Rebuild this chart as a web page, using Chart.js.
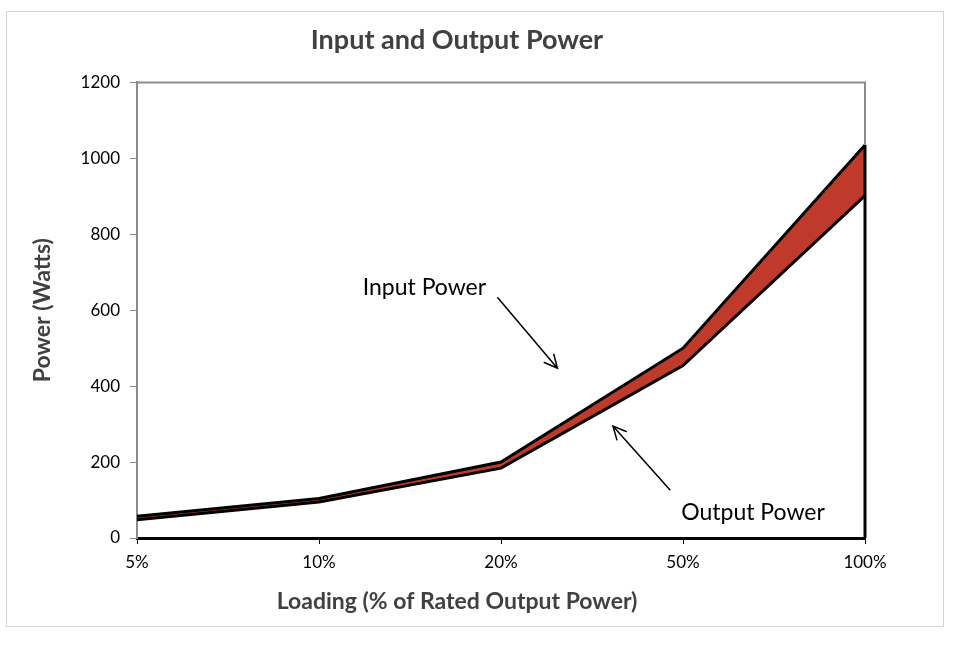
<!DOCTYPE html>
<html>
<head>
<meta charset="utf-8">
<script src="https://cdn.jsdelivr.net/npm/chart.js@4"></script>
<style>
  body { margin: 0; background: #fff; }
  #frame { position: absolute; left: 6px; top: 11px; width: 936px; height: 614px; border: 1px solid #d4d4d4; }
  #wrap { position: absolute; left: 0; top: 0; width: 960px; height: 646px; }
</style>
</head>
<body>
<div id="frame"></div>
<div id="wrap"><canvas id="chart" width="960" height="646"></canvas></div>
<script>
// chart data
const loadLabels = ["5%", "10%", "20%", "50%", "100%"];
const inputPower = [57, 104, 200, 500, 1035];
const outputPower = [48, 95, 184, 454, 902];
const yTicks = [0, 200, 400, 600, 800, 1000, 1200];

const FONT = "Lato, 'Open Sans', sans-serif";

// frame lines, right edge of the area, axis title and the two call-outs
const extras = {
    id: "extras",
    afterDatasetsDraw(chart) {
        const { ctx, chartArea: a, scales: { x, y } } = chart;
        ctx.save();
        // gray top / right frame
        ctx.strokeStyle = "#8c8c8c";
        ctx.lineWidth = 2;
        ctx.beginPath();
        ctx.moveTo(a.left, a.top);
        ctx.lineTo(a.right, a.top);
        ctx.lineTo(a.right, y.getPixelForValue(inputPower[inputPower.length - 1]));
        ctx.stroke();
        // black closing edge of the band
        const xr = x.getPixelForValue(loadLabels.length - 1);
        ctx.strokeStyle = "#000";
        ctx.lineWidth = 3;
        ctx.beginPath();
        ctx.moveTo(xr, y.getPixelForValue(inputPower[inputPower.length - 1]));
        ctx.lineTo(xr, y.getPixelForValue(0));
        ctx.stroke();

        // annotations
        ctx.fillStyle = "#000";
        ctx.font = "23px " + FONT;
        ctx.textBaseline = "middle";
        ctx.textAlign = "left";
        ctx.fillText("Input Power", x.getPixelForValue(1.24), y.getPixelForValue(660));
        ctx.fillText("Output Power", x.getPixelForValue(2.99), y.getPixelForValue(68));

        const arrow = (x1, y1, x2, y2) => {
            const ang = Math.atan2(y2 - y1, x2 - x1);
            ctx.strokeStyle = "#000";
            ctx.lineWidth = 1.5;
            ctx.beginPath();
            ctx.moveTo(x1, y1);
            ctx.lineTo(x2, y2);
            ctx.moveTo(x2 - 15 * Math.cos(ang - 0.45), y2 - 15 * Math.sin(ang - 0.45));
            ctx.lineTo(x2, y2);
            ctx.lineTo(x2 - 15 * Math.cos(ang + 0.45), y2 - 15 * Math.sin(ang + 0.45));
            ctx.stroke();
        };
        arrow(x.getPixelForValue(1.98), y.getPixelForValue(634), x.getPixelForValue(2.31), y.getPixelForValue(447));
        arrow(x.getPixelForValue(2.93), y.getPixelForValue(126), x.getPixelForValue(2.615), y.getPixelForValue(295));

        // x axis title
        ctx.fillStyle = "#404040";
        ctx.font = "bold 23px " + FONT;
        ctx.textAlign = "center";
        ctx.fillText("Loading (% of Rated Output Power)", 457, 602);
        ctx.restore();
    }
};

new Chart(document.getElementById("chart").getContext("2d"), {
    type: "line",
    data: {
        labels: loadLabels,
        datasets: [
            {
                label: "Output Power",
                data: outputPower,
                borderColor: "#000",
                borderWidth: 3,
                fill: false,
                pointRadius: 0,
                tension: 0
            },
            {
                label: "Input Power",
                data: inputPower,
                borderColor: "#000",
                borderWidth: 3,
                backgroundColor: "#bf3a2b",
                fill: "-1",
                pointRadius: 0,
                tension: 0
            }
        ]
    },
    options: {
        responsive: false,
        animation: false,
        layout: { padding: { left: 49, right: 95, top: 0, bottom: 63 } },
        plugins: {
            legend: { display: false },
            tooltip: { enabled: false },
            title: {
                display: true,
                text: "Input and Output Power",
                color: "#404040",
                font: { family: FONT, size: 27, weight: "bold" },
                padding: { top: 24, bottom: 26 }
            }
        },
        scales: {
            x: {
                offset: false,
                grid: { display: true, drawOnChartArea: false, drawTicks: true, tickLength: 6, color: "#000" },
                border: { color: "#000", width: 3 },
                ticks: { color: "#000", font: { family: FONT, size: 17 }, padding: 8, maxRotation: 0 },
                afterFit(scale) { scale.height = 45; }
            },
            y: {
                min: 0,
                max: 1200,
                afterBuildTicks(scale) { scale.ticks = yTicks.map(v => ({ value: v })); },
                grid: { display: true, drawOnChartArea: false, drawTicks: true, tickLength: 7, color: "#8c8c8c" },
                border: { color: "#8c8c8c", width: 2 },
                ticks: {
                    color: "#000",
                    font: { family: FONT, size: 17 },
                    padding: 10,
                    callback: v => String(v)
                },
                title: {
                    display: true,
                    text: "Power (Watts)",
                    color: "#404040",
                    font: { family: FONT, size: 23, weight: "bold" },
                    padding: { top: -20, bottom: 0 }
                },
                afterFit(scale) { scale.width = 88; }
            }
        }
    },
    plugins: [extras]
});
</script>
</body>
</html>
